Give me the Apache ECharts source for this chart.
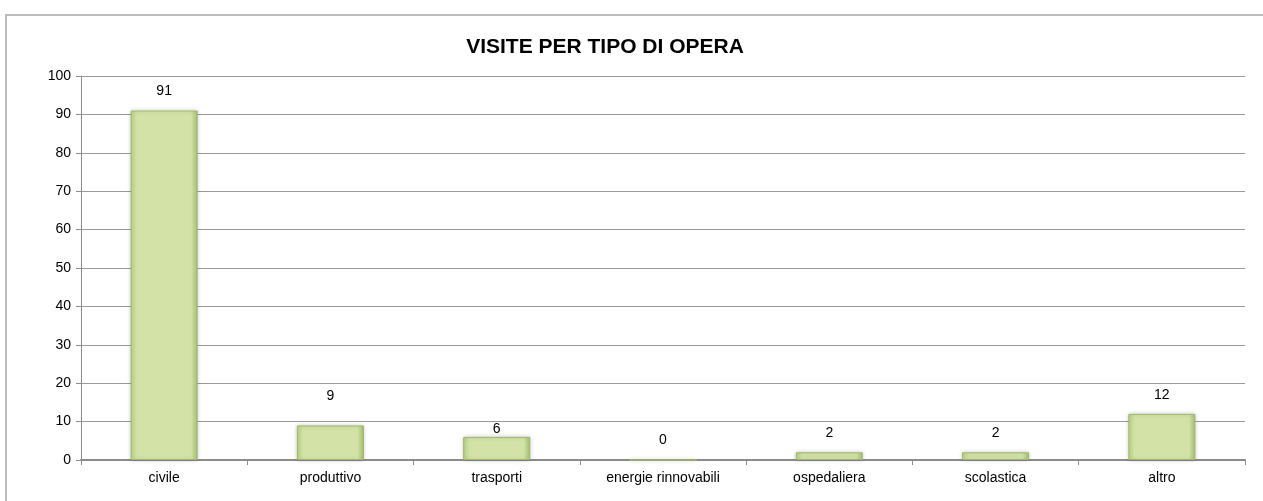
<!DOCTYPE html>
<html>
<head>
<meta charset="utf-8">
<script src="https://cdn.jsdelivr.net/npm/echarts@6/dist/echarts.min.js"></script>
<style>
  html, body { margin: 0; padding: 0; background: #fff; }
  #frame {
    position: absolute; left: 5px; top: 14px; width: 1270px; height: 500px;
    border-left: 2px solid #bdbdbd; border-top: 2px solid #bdbdbd;
  }
  #main { position: absolute; left: 0; top: 0; width: 1263px; height: 501px; }
</style>
</head>
<body>
<div id="frame"></div>
<div id="main"></div>
<script>
const categories = ['civile', 'produttivo', 'trasporti', 'energie rinnovabili', 'ospedaliera', 'scolastica', 'altro'];
const visite = [91, 9, 6, 0, 2, 2, 12];

const chart = echarts.init(document.getElementById('main'));

// gradiente per imitare la barra "smussata"
const barColor = new echarts.graphic.LinearGradient(0, 0, 1, 0, [
  { offset: 0, color: '#bcd38a' },
  { offset: 0.1, color: '#d3e3a7' },
  { offset: 0.9, color: '#d3e3a7' },
  { offset: 1, color: '#a9c276' }
]);

// nel grafico originale alcune etichette sono spostate a mano
const labelDistance = { 1: 22, 2: 1 };

chart.setOption({
  animation: false,
  textStyle: { fontFamily: 'Liberation Sans, Arial, sans-serif' },
  title: {
    text: 'VISITE PER TIPO DI OPERA',
    left: 600, top: 32, textAlign: 'center',
    textStyle: { fontSize: 21, fontWeight: 'bold', color: '#000' }
  },
  grid: { left: 81, right: 18, top: 76, bottom: 41 },
  xAxis: {
    type: 'category',
    data: categories,
    axisLine: { lineStyle: { color: '#8c8c8c', width: 2 } },
    axisTick: { show: true, length: 5, lineStyle: { color: '#8c8c8c' } },
    axisLabel: { color: '#000', fontSize: 14, margin: 11 }
  },
  yAxis: {
    type: 'value',
    min: 0, max: 100, interval: 10,
    axisLine: { show: true, lineStyle: { color: '#8c8c8c', width: 1 } },
    axisTick: { show: true, length: 5, lineStyle: { color: '#8c8c8c' } },
    axisLabel: { color: '#000', fontSize: 14, margin: 10 },
    splitLine: { lineStyle: { color: '#9a9a9a', width: 1 } }
  },
  series: [{
    type: 'bar',
    data: visite.map((v, i) => labelDistance[i] != null
      ? { value: v, label: { distance: labelDistance[i] } }
      : v),
    barWidth: 67,
    itemStyle: {
      color: barColor,
      borderColor: '#9fb86c',
      borderWidth: 1,
      shadowColor: 'rgba(0,0,0,0.2)',
      shadowBlur: 4
    },
    label: {
      show: true, position: 'top', distance: 12,
      color: '#000', fontSize: 14
    }
  }]
});
</script>
</body>
</html>
